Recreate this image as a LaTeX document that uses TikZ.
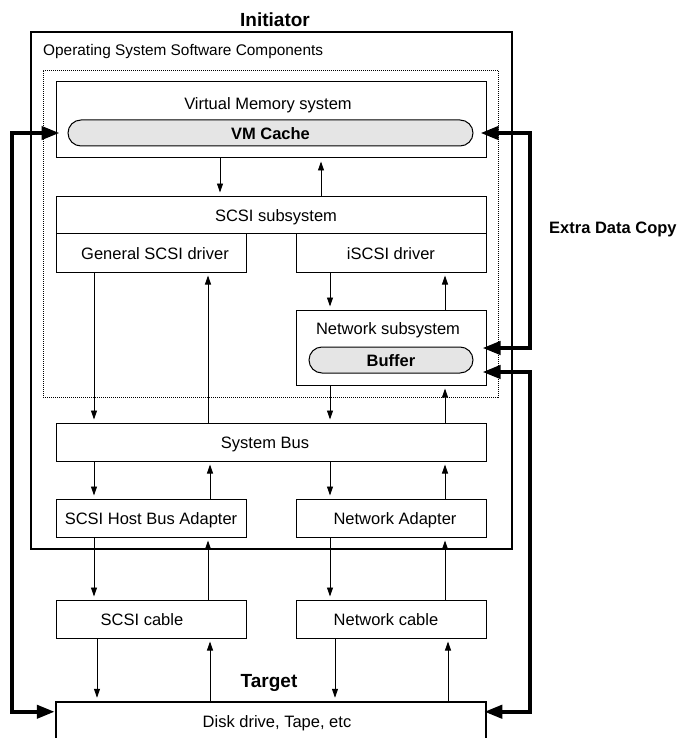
\documentclass[tikz,border=0pt]{standalone}
\usepackage{fontspec}
\setmainfont{Liberation Sans}
\usetikzlibrary{arrows.meta,calc}
\tikzset{
  fn/.style={font=\fontsize{16.5}{19}\selectfont, text height=13.5pt, text depth=0pt},
  box/.style={draw, line width=1pt, inner sep=0pt, fn},
  lbl/.style={fn, inner sep=0pt},
  pill/.style={box, fill=black!10, rounded corners=13pt},
  arr/.style={line width=0.9pt, -{Triangle[length=9pt,width=6pt]}, shorten >=3pt},
  big/.style={line width=4pt, {Triangle[length=18pt,width=13pt]}-{Triangle[length=18pt,width=13pt]}},
  title/.style={font=\bfseries\fontsize{19}{22}\selectfont, inner sep=0pt},
}
\begin{document}
\begin{tikzpicture}[x=1pt,y=-1pt]
\useasboundingbox (0,0) rectangle (694,738);
\clip (0,0) rectangle (694,738);
% column coordinates
\coordinate (k94) at (94,0);
\coordinate (k97) at (97,0);
\coordinate (k208) at (208,0);
\coordinate (k210) at (210,0);
\coordinate (k220) at (220,0);
\coordinate (k321) at (321,0);
\coordinate (k330) at (330,0);
\coordinate (k335) at (335,0);
\coordinate (k445) at (445,0);
\coordinate (k448) at (448,0);
% frames
\node[draw, line width=2.5pt, inner sep=0pt, minimum width=481pt, minimum height=517pt] (init) at (271.5,290.5) {};
\node[draw, line width=0.8pt, dash pattern=on 1pt off 1pt, inner sep=0pt, minimum width=455pt, minimum height=327pt] (os) at (270.5,233.5) {};
\node[title] (tinit) at (275,20) {Initiator};
\node[anchor=west, inner sep=0pt, font=\fontsize{15.4}{18}\selectfont] (tos) at (43,52) {Operating System Software Components};
% virtual memory
\node[box, minimum width=430pt, minimum height=76pt] (vm) at (271,120) {};
\node[lbl] (tvm) at (268,103) {Virtual Memory system};
\node[pill, minimum width=405pt, minimum height=26pt, font=\bfseries\fontsize{16.5}{19}\selectfont] (cache) at (270.5,133) {VM Cache};
% scsi
\node[box, minimum width=430pt, minimum height=37pt] (scsi) at (271,214.5) {};
\node[lbl] (tscsi) at (276,214.5) {SCSI subsystem};
\node[box, minimum width=190pt, minimum height=39pt] (gsd) at (151,252.5) {};
\node[lbl] (tgsd) at (155,252.5) {General SCSI driver};
\node[box, minimum width=190pt, minimum height=39pt] (isd) at (391,252.5) {iSCSI driver};
% network subsystem
\node[box, minimum width=190pt, minimum height=75pt] (net) at (391,347.5) {};
\node[lbl] (tnet) at (388,328) {Network subsystem};
\node[pill, minimum width=164pt, minimum height=26pt, font=\bfseries\fontsize{16.5}{19}\selectfont] (buf) at (391,360) {Buffer};
% bus and adapters
\node[box, minimum width=430pt, minimum height=38pt] (bus) at (271,442) {};
\node[lbl] (tbus) at (265,442) {System Bus};
\node[box, minimum width=190pt, minimum height=38pt] (hba) at (151,518) {SCSI Host Bus Adapter};
\node[box, minimum width=190pt, minimum height=38pt] (nad) at (391,518) {};
\node[lbl] (tnad) at (395,518) {Network Adapter};
\node[box, minimum width=190pt, minimum height=38pt] (scab) at (151,619) {};
\node[lbl] (tscab) at (142,619) {SCSI cable};
\node[box, minimum width=190pt, minimum height=38pt] (ncab) at (391,619) {};
\node[lbl] (tncab) at (386,619) {Network cable};
% target
\node[title] (ttarget) at (269,683) {Target};
\node[box, line width=2.5pt, minimum width=430pt, minimum height=40pt] (disk) at (271,722) {};
\node[lbl] (tdisk) at (277,721) {Disk drive, Tape, etc};
\node[anchor=west, inner sep=0pt, font=\bfseries\fontsize{16.5}{19}\selectfont] (tedc) at (549,229) {Extra Data Copy};
% thin arrows
\draw[arr] (vm.south -| k220) -- (scsi.north -| k220);
\draw[arr] (scsi.north -| k321) -- (vm.south -| k321);
\draw[arr] (gsd.south -| k94) -- (bus.north -| k94);
\draw[arr] (bus.north -| k208) -- (gsd.south -| k208);
\draw[arr] (isd.south -| k330) -- (net.north -| k330);
\draw[arr] (net.north -| k445) -- (isd.south -| k445);
\draw[arr] (net.south -| k330) -- (bus.north -| k330);
\draw[arr] (bus.north -| k445) -- (net.south -| k445);
\draw[arr] (bus.south -| k94) -- (hba.north -| k94);
\draw[arr] (hba.north -| k210) -- (bus.south -| k210);
\draw[arr] (bus.south -| k330) -- (nad.north -| k330);
\draw[arr] (nad.north -| k445) -- (bus.south -| k445);
\draw[arr] (hba.south -| k94) -- (scab.north -| k94);
\draw[arr] (scab.north -| k208) -- (hba.south -| k208);
\draw[arr] (nad.south -| k330) -- (ncab.north -| k330);
\draw[arr] (ncab.north -| k445) -- (nad.south -| k445);
\draw[arr] (scab.south -| k97) -- (disk.north -| k97);
\draw[arr] (disk.north -| k210) -- (scab.south -| k210);
\draw[arr] (ncab.south -| k335) -- (disk.north -| k335);
\draw[arr] (disk.north -| k448) -- (ncab.south -| k448);
% thick data-copy arrows
\draw[big] ($(disk.north west)+(0,11)$) -- ++(-43,0) |- ($(cache.west)+(-8,0)$);
\draw[big] ($(cache.east)+(7,0)$) -- ++(49,0) |- ($(net.east)+(-4,0.5)$);
\draw[big] ($(net.east)+(-4,24.5)$) -- ++(47,0) |- ($(disk.north east)+(-3,11)$);
\end{tikzpicture}
\end{document}
